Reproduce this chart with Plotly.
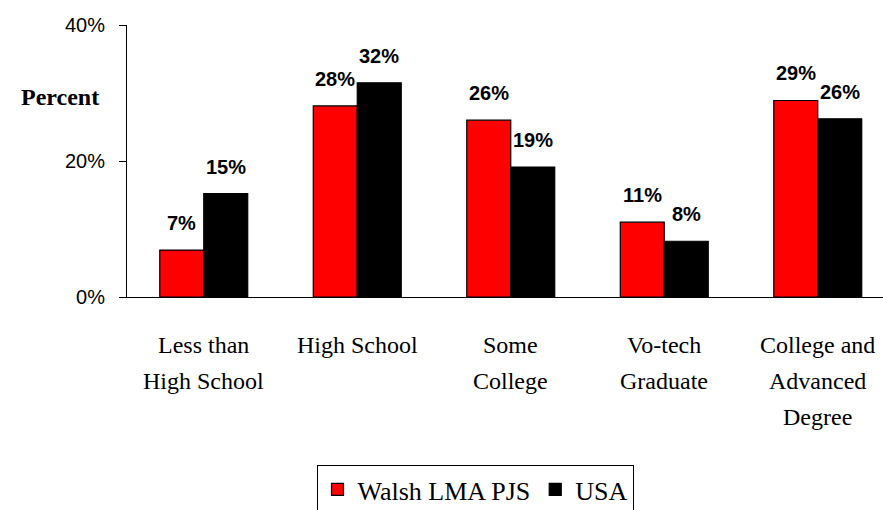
import plotly.graph_objects as go

categories = ["Less than<br>High School", "High School", "Some<br>College",
              "Vo-tech<br>Graduate", "College and<br>Advanced<br>Degree"]
series_names = ["Walsh LMA PJS", "USA"]
walsh = [6.9, 28.1, 26.0, 11.0, 28.9]
usa = [15.2, 31.5, 19.1, 8.2, 26.2]
walsh_labels = ["7%", "28%", "26%", "11%", "29%"]
usa_labels = ["15%", "32%", "19%", "8%", "26%"]
y_ticks = [0, 20, 40]
y_tick_labels = ["0%", "20%", "40%"]

SERIF = "Liberation Serif, Times New Roman, serif"
SANS = "Liberation Sans, Arial, sans-serif"

W, H = 883, 510
L, R, T, B = 127, 0, 25, 213
plot_w = W - L - R
plot_h = H - T - B
spacing = 153.5
x_max = -0.5 + plot_w / spacing

xs = list(range(len(categories)))

fig = go.Figure()
fig.add_trace(go.Bar(x=xs, y=walsh, name=series_names[0],
                     marker=dict(color="#FF0000", line=dict(color="#000000", width=1.2))))
fig.add_trace(go.Bar(x=xs, y=usa, name=series_names[1],
                     marker=dict(color="#000000", line=dict(color="#000000", width=1.2))))

annotations = []
bar_half = 22
for i in xs:
    annotations.append(dict(x=i, y=walsh[i], xref="x", yref="y", text="<b>" + walsh_labels[i] + "</b>",
                            showarrow=False, xshift=-bar_half, yshift=14, yanchor="bottom",
                            font=dict(family=SANS, size=20, color="#000")))
    annotations.append(dict(x=i, y=usa[i], xref="x", yref="y", text="<b>" + usa_labels[i] + "</b>",
                            showarrow=False, xshift=bar_half, yshift=14, yanchor="bottom",
                            font=dict(family=SANS, size=20, color="#000")))
    for j, line in enumerate(categories[i].split("<br>")):
        ypix = 345 + j * 36
        annotations.append(dict(x=i, xref="x", y=(H - B - ypix) / plot_h, yref="paper",
                                text=line, showarrow=False, yanchor="middle",
                                font=dict(family=SERIF, size=24, color="#000")))

annotations.append(dict(x=(60 - L) / plot_w, xref="paper", y=(H - B - 97) / plot_h, yref="paper",
                        text="<b>Percent</b>", showarrow=False, xanchor="center", yanchor="middle",
                        font=dict(family=SERIF, size=24, color="#000")))

fig.update_layout(
    width=W, height=H,
    margin=dict(l=L, r=R, t=T, b=B, pad=0, autoexpand=False),
    paper_bgcolor="white", plot_bgcolor="white",
    barmode="group", bargap=0.427, bargroupgap=0,
    showlegend=True,
    legend=dict(orientation="h", xref="container", x=475 / W, xanchor="center",
                yref="container", y=1 - 465 / H, yanchor="top",
                bordercolor="#000", borderwidth=1,
                font=dict(family=SERIF, size=26, color="#000"),
                itemwidth=30, traceorder="normal"),
    annotations=annotations,
    xaxis=dict(range=[-0.5, x_max], showticklabels=False, ticks="",
               showline=True, linecolor="#000", linewidth=1, showgrid=False,
               zeroline=False, fixedrange=True),
    yaxis=dict(range=[0, 40], tickvals=y_ticks, ticktext=y_tick_labels,
               ticks="outside", ticklen=7, tickcolor="#000", tickwidth=1,
               ticklabelstandoff=10,
               showline=True, linecolor="#000", linewidth=1, showgrid=False,
               zeroline=False, tickfont=dict(family=SANS, size=20, color="#000"),
               fixedrange=True),
)

fig.write_html("out.html")
